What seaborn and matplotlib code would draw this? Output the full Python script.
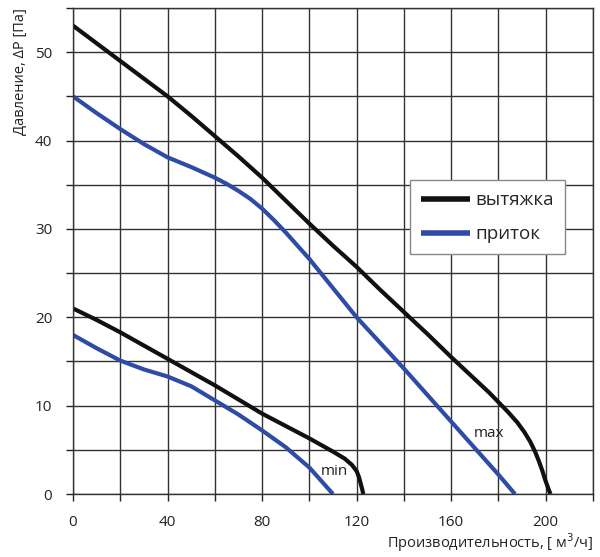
import pandas as pd
import matplotlib.pyplot as plt
import seaborn as sns

# Curves (flow m3/h, pressure Pa)
max_out_x = [0, 10, 20, 30, 40, 50, 60, 70, 80, 90, 100, 110, 120, 130, 140, 150, 160, 170, 176, 180, 184, 188, 191, 193.5, 195.5, 197, 198.5, 199.8, 201, 202]
max_out_y = [53, 51, 49, 47, 45, 42.8, 40.5, 38.2, 35.8, 33.2, 30.6, 28.1, 25.7, 23.1, 20.6, 18.1, 15.5, 13, 11.5, 10.4, 9.3, 8.1, 7.0, 5.9, 4.8, 3.8, 2.7, 1.6, 0.7, 0]

max_in_x = [0, 10, 20, 30, 40, 50, 55, 60, 65, 70, 75, 80, 85, 90, 95, 100, 110, 120, 140, 160, 180, 187]
max_in_y = [45, 43.1, 41.3, 39.6, 38.1, 37, 36.4, 35.8, 35.1, 34.3, 33.4, 32.3, 31.0, 29.6, 28.1, 26.6, 23.3, 20, 14.2, 8.2, 2.2, 0]

min_out_x = [0, 10, 20, 30, 40, 50, 60, 70, 80, 90, 100, 110, 115, 118, 120, 121, 121.8, 122.4, 122.8]
min_out_y = [21, 19.7, 18.3, 16.8, 15.3, 13.8, 12.3, 10.7, 9.1, 7.7, 6.3, 4.8, 4.0, 3.3, 2.6, 1.9, 1.1, 0.5, 0]

min_in_x = [0, 10, 20, 30, 40, 50, 60, 70, 80, 90, 100, 110]
min_in_y = [18, 16.5, 15.1, 14.1, 13.3, 12.2, 10.6, 9.0, 7.2, 5.3, 3.0, 0]

labels = ["вытяжка", "приток"]
colors = ["#111111", "#2e4ca6"]

frames = []
for name, mode, xs, ys in [
    (labels[0], "max", max_out_x, max_out_y),
    (labels[1], "max", max_in_x, max_in_y),
    (labels[0], "min", min_out_x, min_out_y),
    (labels[1], "min", min_in_x, min_in_y),
]:
    frames.append(pd.DataFrame({"x": xs, "y": ys, "type": name, "mode": mode}))
df = pd.concat(frames, ignore_index=True)

sns.set_style("white")
plt.rcParams["font.family"] = ["Open Sans", "DejaVu Sans"]

fig = plt.figure(figsize=(6, 5.57), dpi=100)
ax = fig.add_axes([0.1217, 0.113, 0.8666, 0.8727])

sns.lineplot(data=df, x="x", y="y", hue="type", units="mode", estimator=None,
             sort=False, palette=dict(zip(labels, colors)), linewidth=3,
             ax=ax, solid_joinstyle="round", solid_capstyle="butt")

ax.set_xlim(0, 220)
ax.set_ylim(0, 55)
ax.set_xticks(range(0, 221, 20), minor=False)
ax.set_xticklabels([str(v) if v % 40 == 0 and v <= 200 else "" for v in range(0, 221, 20)])
ax.set_yticks(range(0, 56, 5))
ax.set_yticklabels([str(v) if v % 10 == 0 and v <= 50 else "" for v in range(0, 56, 5)])
ax.grid(True, color="#333333", linewidth=1)
for s in ax.spines.values():
    s.set_color("#333333")
    s.set_linewidth(1)
ax.tick_params(axis="both", labelsize=11, colors="#222222", length=5, width=1,
               direction="out", pad=10)
ax.tick_params(axis="both", bottom=True, left=True)

ax.set_xlabel("Производительность, [ м$^3$/ч]", loc="right", fontsize=10.5, color="#222222", labelpad=1)
ax.set_ylabel("Давление, ΔP [Па]", loc="top", fontsize=10.5, color="#222222", labelpad=5)

ax.text(176, 6.9, "max", fontsize=11, ha="center", va="center", color="#222222")
ax.text(110.5, 2.5, "min", fontsize=11, ha="center", va="center", color="#222222")

leg = ax.legend(loc="upper left", bbox_to_anchor=(0.648, 0.646), fontsize=13.5,
                frameon=True, fancybox=False, edgecolor="#888888", framealpha=1,
                handlelength=2.6, handletextpad=0.3, borderpad=0.6, labelspacing=0.85,
                borderaxespad=0)
leg.get_frame().set_linewidth(1)
for h in leg.get_lines():
    h.set_linewidth(4)

fig.savefig("out.png", dpi=100)
